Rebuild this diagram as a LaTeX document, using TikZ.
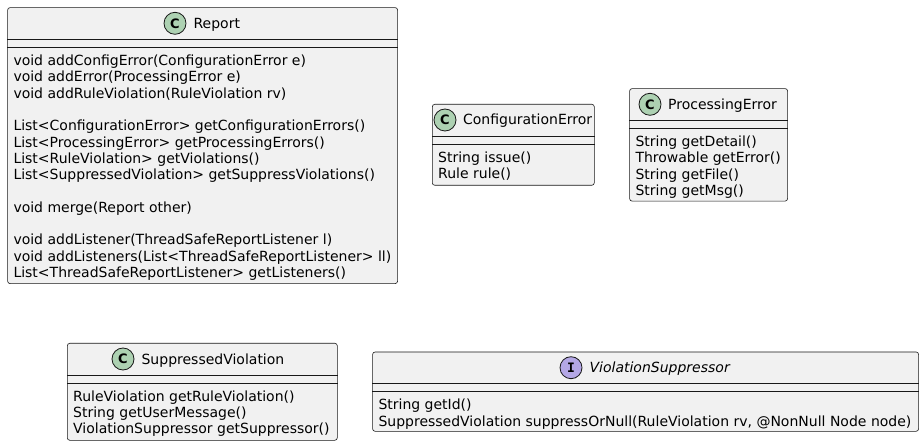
\documentclass[tikz,border=0pt]{standalone}
\usepackage{fontspec}
\setmainfont{DejaVu Sans}
\setmonofont{DejaVu Sans Mono}
\usetikzlibrary{positioning,calc}
\definecolor{umlline}{HTML}{181818}
\definecolor{umlfill}{HTML}{F1F1F1}
\definecolor{clsspot}{HTML}{ADD1B2}
\definecolor{ifcspot}{HTML}{B4A7E5}

\begin{document}
\begin{tikzpicture}[
  x=1pt, y=-1pt,
  font=\fontsize{14}{16.3}\selectfont,
  box/.style={draw=umlline,fill=umlfill,line width=0.6pt,rounded corners=2.5pt,
              anchor=north west,inner sep=0pt},
  spot/.style={circle,draw=umlline,line width=0.8pt,minimum size=22pt,inner sep=0pt,
               font=\fontsize{13}{13}\selectfont\bfseries},
  cspot/.style={spot,fill=clsspot},
  ispot/.style={spot,fill=ifcspot,font=\fontsize{13}{13}\selectfont\ttfamily\bfseries},
  cname/.style={inner sep=0pt,text height=11pt,text depth=1pt},
  ops/.style={align=left,inner sep=0pt,anchor=north west},
  sep/.style={draw=umlline,line width=0.6pt},
]
\useasboundingbox (0,0) rectangle (924,446);

% ------------------------------------------------------------ class boxes
\node[box,minimum width=390pt,minimum height=276pt]  (rep) at (7.3,7.3)   {};
\node[box,minimum width=162pt,minimum height=81pt]   (cfg) at (432,104)   {};
\node[box,minimum width=158pt,minimum height=112.5pt] (prc) at (629.3,88.3) {};
\node[box,minimum width=270pt,minimum height=97pt]   (sup) at (67,343)    {};
\node[box,minimum width=546pt,minimum height=79.3pt] (vsp) at (372.3,351.7) {};

\foreach \c in {rep,cfg,prc,sup,vsp}
  \foreach \d in {32,40}
    \draw[sep] ($(\c.north west)+(0,\d)$) -- ($(\c.north east)+(0,\d)$);

% ------------------------------------------------------------ headers
\node[cspot] (repc) at (175,23.3)  {C};
\node[cspot] (cfgc) at (445,120)   {C};
\node[cspot] (prcc) at (650,104.3) {C};
\node[cspot] (supc) at (123,359)   {C};
\node[ispot] (vspc) at (571,367.7) {I};

\node[cname,right=7pt of repc]   (repn) {Report};
\node[cname,right=6.5pt of cfgc] (cfgn) {ConfigurationError};
\node[cname,right=6.5pt of prcc] (prcn) {ProcessingError};
\node[cname,right=7pt of supc]   (supn) {SuppressedViolation};
\node[cname,right=7pt of vspc]   (vspn) {\itshape ViolationSuppressor};

% ------------------------------------------------------------ members
\node[ops] (repm) at ($(rep.north west)+(6,47.4)$)
  {void addConfigError(ConfigurationError e)\\
   void addError(ProcessingError e)\\
   void addRuleViolation(RuleViolation rv)\\[16.3pt]
   List<ConfigurationError> getConfigurationErrors()\\
   List<ProcessingError> getProcessingErrors()\\
   List<RuleViolation> getViolations()\\
   List<SuppressedViolation> getSuppressViolations()\\[16.3pt]
   void merge(Report other)\\[16.3pt]
   void addListener(ThreadSafeReportListener l)\\
   void addListeners(List<ThreadSafeReportListener> ll)\\
   List<ThreadSafeReportListener> getListeners()};
\node[ops] (cfgm) at ($(cfg.north west)+(6,47.4)$)
  {String issue()\\
   Rule rule()};
\node[ops] (prcm) at ($(prc.north west)+(6,47.4)$)
  {String getDetail()\\
   Throwable getError()\\
   String getFile()\\
   String getMsg()};
\node[ops] (supm) at ($(sup.north west)+(6,47.4)$)
  {RuleViolation getRuleViolation()\\
   String getUserMessage()\\
   ViolationSuppressor getSuppressor()};
\node[ops] (vspm) at ($(vsp.north west)+(6,47.4)$)
  {String getId()\\
   SuppressedViolation suppressOrNull(RuleViolation rv, @NonNull Node node)};

\end{tikzpicture}
\end{document}
